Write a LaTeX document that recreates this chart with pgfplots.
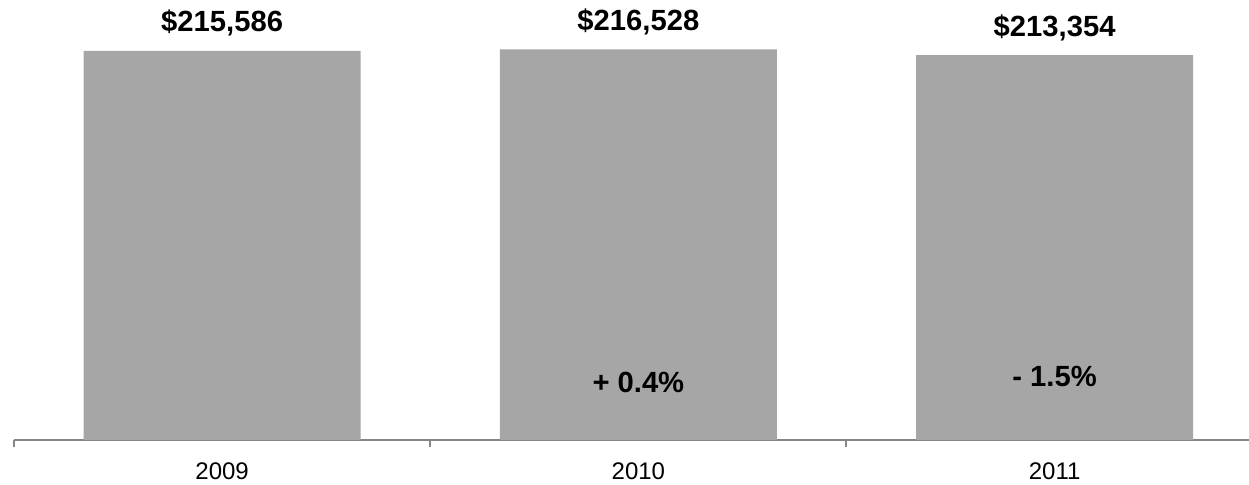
\documentclass[border=0pt]{standalone}
\usepackage{pgfplots}
\pgfplotsset{compat=1.18}
\usepackage{fontspec}
\setmainfont{Liberation Sans}
\definecolor{bargray}{HTML}{A6A6A6}
\definecolor{axisgray}{HTML}{868686}
\begin{document}
\begin{tikzpicture}
\path[use as bounding box] (-7pt,-22.5pt) rectangle (617.5pt,220pt);
\begin{axis}[
  scale only axis,
  width=617.5pt, height=220pt,
  anchor=south west, at={(0,0)},
  xmin=-0.5, xmax=2.467,
  ymin=0, ymax=243850,
  axis x line*=bottom,
  axis y line=none,
  axis line style={axisgray, line width=1pt},
  xtick={0,1,2},
  xticklabels={2009,2010,2011},
  major tick length=0pt,
  minor xtick={-0.5,0.5,1.5},
  minor tick length=3.5pt,
  tick align=outside,
  minor tick style={axisgray, line width=1pt},
  xticklabel style={font=\fontsize{12}{14}\selectfont, anchor=base, yshift=-20pt},
  clip=false,
]
\addplot[ybar, bar width=138.5pt, fill=bargray, draw=none,
  point meta=explicit symbolic,
  nodes near coords,
  every node near coord/.append style={font=\fontsize{14.6}{16}\selectfont\bfseries, anchor=base, yshift=9.5pt, inner sep=0pt, text=black},
] table[meta=label] {
x y label
0 215586 \$215,586
1 216528 \$216,528
2 213354 \$213,354
};
\addplot[only marks, mark=none,
  point meta=explicit symbolic,
  nodes near coords,
  every node near coord/.append style={font=\fontsize{14.6}{16}\selectfont\bfseries, anchor=base, inner sep=0pt, text=black},
] table[meta=label] {
x y label
1 26050 {+ 0.4\%}
2 29370 {- 1.5\%}
};
\end{axis}
\end{tikzpicture}
\end{document}
